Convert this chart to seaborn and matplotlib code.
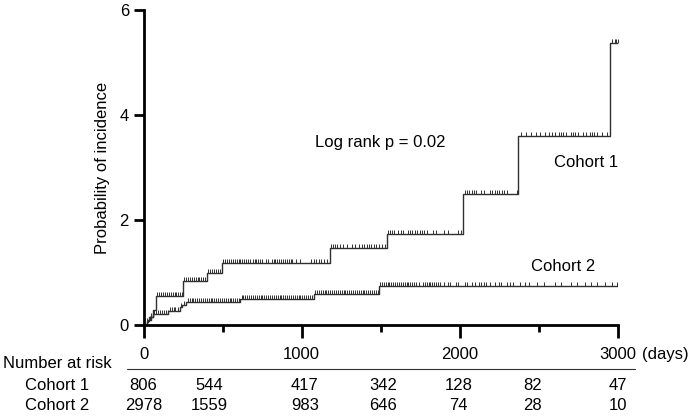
import numpy as np
import pandas as pd
import matplotlib
matplotlib.use("Agg")
import matplotlib.pyplot as plt
from matplotlib.path import Path
from matplotlib.lines import Line2D
import matplotlib.transforms as mtransforms
import seaborn as sns

# ---------------- data ----------------
c1_step_days = [0, 20, 35, 60, 78, 248, 400, 495, 1177, 1540, 2021, 2370, 2950, 3000]
c1_step_vals = [0, 0.08, 0.15, 0.28, 0.55, 0.84, 1.0, 1.18, 1.46, 1.74, 2.49, 3.6, 5.38, 5.38]

c2_step_days = [0, 20, 30, 45, 60, 158, 228, 245, 268, 612, 1075, 1487, 3000]
c2_step_vals = [0, 0.05, 0.1, 0.15, 0.21, 0.27, 0.34, 0.39, 0.44, 0.49, 0.6, 0.75, 0.75]

c1_censor = [88, 100, 112, 124, 136, 148, 160, 172, 184, 196, 208, 220, 232, 242,
             258, 270, 282, 294, 306, 318, 330, 342, 354, 366, 378, 390,
             410, 422, 434, 446, 458, 470, 482,
             505, 517, 529, 541, 553, 565, 577, 589, 601, 613, 625, 637, 649, 661, 673,
             690, 702, 714, 726, 738, 750, 775, 790, 810, 822, 834, 846, 858, 870, 882,
             894, 906, 918, 930, 942, 965, 990, 1060, 1075, 1090, 1110, 1125, 1140, 1160,
             1185, 1197, 1209, 1221, 1240, 1262, 1285, 1320, 1335, 1365, 1380, 1395, 1410,
             1425, 1440, 1455, 1470, 1490, 1510, 1528,
             1548, 1560, 1572, 1584, 1610, 1625, 1640, 1670, 1685, 1700, 1715, 1730, 1745,
             1760, 1775, 1790, 1830, 1850, 1900, 1925, 1990, 2010,
             2030, 2045, 2060, 2075, 2090, 2105, 2135, 2150, 2190, 2205, 2220, 2235, 2250,
             2265, 2280, 2300, 2360,
             2385, 2420, 2450, 2480, 2510, 2540, 2565, 2580, 2600, 2625, 2640, 2655, 2670,
             2700, 2715, 2730, 2745, 2780, 2795, 2820, 2835, 2850, 2865, 2900, 2930,
             2965, 2978, 2990, 2998]

c2_censor = [25, 38, 50, 65, 77, 90, 102, 115, 127, 140, 152, 165, 178, 190, 202, 215,
             235, 255, 280, 292, 304, 316, 328, 340, 352, 364, 376, 388, 400, 412, 424,
             436, 448, 460, 472, 484, 496, 508, 520, 532, 544, 556, 568, 580, 592, 604,
             620, 632, 644, 656, 668, 680, 692, 704, 716, 728, 740, 752, 764, 776, 788,
             800, 812, 824, 836, 848, 860, 872, 884, 896, 908, 920, 932, 944, 956, 968,
             980, 992, 1004, 1016, 1028, 1040, 1052, 1064,
             1085, 1097, 1109, 1121, 1133, 1145, 1157, 1169, 1181, 1193, 1205, 1217, 1229,
             1241, 1253, 1265, 1277, 1289, 1301, 1313, 1325, 1337, 1349, 1361, 1373, 1385,
             1397, 1409, 1421, 1433, 1445, 1457, 1469, 1480,
             1495, 1507, 1519, 1531, 1543, 1555, 1567, 1579, 1591, 1603, 1615, 1627, 1639,
             1651, 1663, 1675, 1687, 1699, 1711, 1723, 1740, 1765, 1778, 1790, 1802, 1814,
             1826, 1838, 1850, 1862, 1874, 1900, 1925, 1940, 1975, 1990, 2030, 2045, 2080,
             2095, 2120, 2135, 2150, 2165, 2190, 2220, 2245, 2260, 2300, 2320, 2335, 2380,
             2410, 2440, 2490, 2530, 2600, 2640, 2700, 2740, 2790, 2830, 2870, 2920, 2960, 2995]

cohorts = ["Cohort 1", "Cohort 2"]
risk_cohort1 = [806, 544, 417, 342, 128, 82, 47]
risk_cohort2 = [2978, 1559, 983, 646, 74, 28, 10]
xtick_vals = [0, 1000, 2000, 3000]
ytick_vals = [0, 2, 4, 6]

# ---------------- style ----------------
sns.set_style("ticks")
plt.rcParams["font.family"] = ["Liberation Sans", "DejaVu Sans"]
for k in ["text.color", "axes.labelcolor", "xtick.color", "ytick.color", "axes.edgecolor"]:
    plt.rcParams[k] = "black"
FS = 12

fig = plt.figure(figsize=(7, 4.17), dpi=100)
W, H = 700, 417
ax = fig.add_axes([143.5 / W, 1 - 325 / H, (618 - 143.5) / W, (325 - 10) / H])

line_col = "#303030"

def step_lookup(days, vals, t):
    idx = np.searchsorted(days, t, side="right") - 1
    return np.asarray(vals)[idx]

curves = []
censors = []
for name, d, v, c in [("Cohort 1", c1_step_days, c1_step_vals, c1_censor),
                      ("Cohort 2", c2_step_days, c2_step_vals, c2_censor)]:
    curves.append(pd.DataFrame({"day": d, "p": v, "cohort": name}))
    censors.append(pd.DataFrame({"day": c, "p": step_lookup(d, v, c), "cohort": name}))
curve_df = pd.concat(curves, ignore_index=True)
cens_df = pd.concat(censors, ignore_index=True)

for name in cohorts:
    sub = curve_df[curve_df.cohort == name]
    sns.lineplot(data=sub, x="day", y="p", ax=ax, color=line_col, lw=1.0,
                 drawstyle="steps-post", estimator=None, sort=False, legend=False)

tick_marker = Path([(0, 0), (0, 1)], [Path.MOVETO, Path.LINETO])
sns.scatterplot(data=cens_df, x="day", y="p", ax=ax, marker=tick_marker, s=28,
                color=line_col, edgecolor=line_col, linewidth=0.7, legend=False,
                clip_on=False)

ax.set_xlim(0, 3000)
ax.set_ylim(0, 6)
ax.set_xticks(xtick_vals)
ax.set_xticklabels([str(v) for v in xtick_vals], fontsize=FS)
ax.set_xticks([500, 1500, 2500], minor=True)
ax.set_yticks(ytick_vals)
ax.set_yticklabels([str(v) for v in ytick_vals], fontsize=FS)
ax.tick_params(axis="x", which="major", length=9, width=2, pad=7, color="black")
ax.tick_params(axis="x", which="minor", length=5, width=2, color="black")
ax.tick_params(axis="y", which="major", length=7.5, width=2, pad=3, color="black")
for s in ["left", "bottom"]:
    ax.spines[s].set_linewidth(2)
    ax.spines[s].set_color("black")
sns.despine(ax=ax)
ax.set_xlabel("")
ax.set_ylabel("Probability of incidence", fontsize=FS, labelpad=7)

ax.text(1497, 3.47, "Log rank p = 0.02", fontsize=FS, ha="center", va="center")
ax.text(2800, 3.09, "Cohort 1", fontsize=FS, ha="center", va="center")
ax.text(2650, 1.12, "Cohort 2", fontsize=FS, ha="center", va="center")

# ---------------- risk table ----------------
trans = mtransforms.blended_transform_factory(ax.transData, fig.transFigure)
risk_cols = [0, 415, 1020, 1515, 1990, 2460, 3000]

def fy(py):
    return 1 - py / H

fig.text(642 / W, fy(355), "(days)", fontsize=FS, ha="left", va="center")
fig.text(3 / W, fy(363), "Number at risk", fontsize=FS, ha="left", va="center")
fig.add_artist(Line2D([127 / W, 635 / W], [fy(369), fy(369)], color="#333333", lw=0.8))
for row_y, name, vals in [(385, cohorts[0], risk_cohort1), (405, cohorts[1], risk_cohort2)]:
    fig.text(25 / W, fy(row_y), name, fontsize=FS, ha="left", va="center")
    for xc, v in zip(risk_cols, vals):
        ax.text(xc, fy(row_y), str(v), transform=trans, fontsize=FS, ha="center", va="center")

fig.savefig("out.png", dpi=100)
